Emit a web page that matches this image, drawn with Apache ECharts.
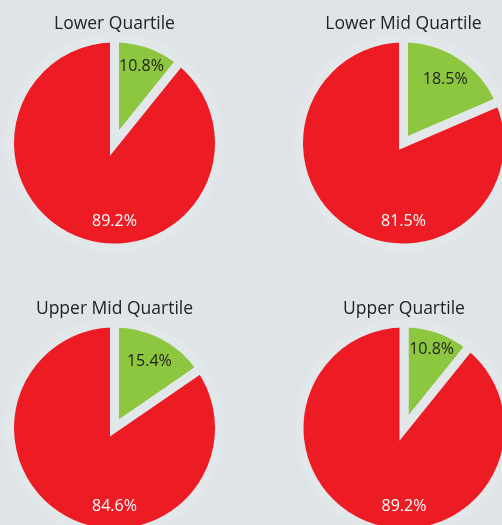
<!DOCTYPE html>
<html>
<head>
<meta charset="utf-8">
<script src="https://cdn.jsdelivr.net/npm/echarts@6/dist/echarts.min.js"></script>
<style>
  html, body { margin: 0; padding: 0; background: #dfe4e8; }
  #chart { width: 502px; height: 525px; }
</style>
</head>
<body>
<div id="chart"></div>
<script>
// quartile names
const quartiles = ["Lower Quartile", "Lower Mid Quartile", "Upper Mid Quartile", "Upper Quartile"];
// share in each quartile (%)
const greenShare = [10.8, 18.5, 15.4, 10.8];
const redShare = [89.2, 81.5, 84.6, 89.2];

// layout of the four pies
const centers = [[114.5, 143], [403.5, 143], [114.5, 428], [404, 428]];
const titleTops = [10, 10, 295, 295];
const greenLabelDist = [81, 76, 75, 83];

const bg = "#dfe4e8";
const green = "#8dc63f";
const red = "#ed1c24";

let chart = echarts.init(document.getElementById("chart"));

let titles = quartiles.map((q, i) => ({
  text: q,
  // title padding pushes the text right a little
  left: centers[i][0] - 5,
  top: titleTops[i],
  textAlign: "center",
  textStyle: {
    fontFamily: "Open Sans",
    fontSize: 17.5,
    fontWeight: "normal",
    color: "#222"
  }
}));

let series = quartiles.map((q, i) => {
  // middle of the green slice, measured clockwise from 12 o'clock
  let mid = (greenShare[i] / (greenShare[i] + redShare[i])) * Math.PI;
  let d = greenLabelDist[i];
  return {
    name: q,
    type: "pie",
    center: centers[i],
    radius: 105,
    startAngle: 90,
    clockwise: true,
    silent: true,
    emphasis: { disabled: true },
    itemStyle: {
      borderColor: "#e2e7ea",
      borderWidth: 9,
      borderJoin: "miter",
      borderMiterLimit: 20
    },
    label: {
      show: true,
      position: "center",
      fontFamily: "Open Sans",
      fontSize: 16,
      formatter: p => p.value.toFixed(1) + "%"
    },
    labelLine: { show: false },
    data: [
      {
        name: "Female",
        value: greenShare[i],
        itemStyle: { color: green },
        label: { color: "#222", offset: [d * Math.sin(mid), -d * Math.cos(mid)] }
      },
      {
        name: "Male",
        value: redShare[i],
        itemStyle: { color: red },
        label: { color: "#fff", offset: [0, 78] }
      }
    ]
  };
});

chart.setOption({
  backgroundColor: bg,
  animation: false,
  title: titles,
  series: series
});
</script>
</body>
</html>
